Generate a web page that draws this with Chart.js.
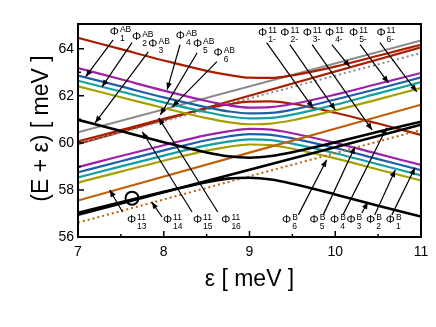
<!DOCTYPE html>
<html>
<head>
<meta charset="utf-8">
<script src="https://cdn.jsdelivr.net/npm/chart.js@4.4.0/dist/chart.umd.min.js"></script>
<style>
  html, body { margin: 0; padding: 0; background: #fff; }
</style>
</head>
<body>
<canvas id="chart" width="436" height="327"></canvas>
<script>
// epsilon grid used for the curved branches
const eps = [7, 7.5, 8, 8.5, 8.75, 9, 9.25, 9.5, 10, 10.5, 11];
const ends = [7, 11];

// curved branches (avoided crossings)
const purpleUp = [63.18, 62.70, 62.22, 61.78, 61.60, 61.50, 61.52, 61.65, 62.05, 62.51, 62.97];
const purpleLo = [58.97, 59.44, 59.90, 60.33, 60.49, 60.59, 60.56, 60.41, 60.00, 59.53, 59.06];
const blueUp = [62.86, 62.40, 61.93, 61.51, 61.34, 61.25, 61.27, 61.41, 61.84, 62.30, 62.78];
const blueLo = [58.75, 59.22, 59.68, 60.11, 60.27, 60.37, 60.34, 60.19, 59.78, 59.31, 58.84];
const tealUp = [62.64, 62.18, 61.72, 61.30, 61.13, 61.04, 61.06, 61.20, 61.62, 62.10, 62.58];
const tealLo = [58.53, 59.00, 59.46, 59.89, 60.05, 60.15, 60.12, 59.97, 59.56, 59.09, 58.62];
const oliveUp = [62.40, 61.94, 61.48, 61.05, 60.88, 60.79, 60.82, 60.96, 61.38, 61.85, 62.33];
const oliveLo = [58.31, 58.78, 59.24, 59.67, 59.83, 59.93, 59.90, 59.75, 59.34, 58.87, 58.40];
const redUp = [64.46, 63.98, 63.50, 63.06, 62.89, 62.77, 62.76, 62.87, 63.24, 63.70, 64.17];
const redLo = [60.06, 60.54, 61.02, 61.46, 61.63, 61.75, 61.76, 61.66, 61.28, 60.82, 60.34];
const blackUp = [60.98, 60.50, 60.03, 59.59, 59.43, 59.37, 59.44, 59.60, 60.02, 60.47, 60.90];
const blackLo = [57.03, 57.48, 57.92, 58.33, 58.48, 58.52, 58.44, 58.26, 57.81, 57.33, 56.87];

// straight lines, values at eps = 7 and 11
const grayLine = [60.45, 64.35];
const grayDot = [59.96, 63.82];
const redLine = [59.95, 64.06];
const blackLine = [56.95, 60.77];
const orangeLine = [57.55, 61.62];
const orangeDot = [56.61, 60.55];

const circlePt = [{ x: 7.63, y: 57.65 }];

const xTicks = [7, 8, 9, 10, 11];
const yTicks = [56, 58, 60, 62, 64];
const xMinor = [7.5, 8.5, 9.5, 10.5];
const yMinor = [57, 59, 61, 63];

// labels: [sup, sub, label x, label y, arrow from x, y, arrow to x, y] (data units)
const notes = [
  ["AB", "1", 7.37, 64.60, 7.41, 64.38, 7.09, 62.81],
  ["AB", "2", 7.63, 64.38, 7.63, 64.26, 7.28, 62.38],
  ["AB", "3", 7.82, 64.07, 7.82, 63.87, 7.20, 60.85],
  ["AB", "4", 8.14, 64.41, 8.19, 64.17, 8.04, 62.26],
  ["AB", "5", 8.34, 64.07, 8.39, 63.83, 7.96, 61.19],
  ["AB", "6", 8.58, 63.70, 8.62, 63.45, 8.10, 61.53],
  ["11", "1-", 9.10, 64.52, 9.20, 64.26, 9.74, 61.49],
  ["11", "2-", 9.36, 64.52, 9.47, 64.17, 10.00, 61.40],
  ["11", "3-", 9.62, 64.52, 9.73, 64.17, 10.43, 60.55],
  ["11", "4-", 9.88, 64.52, 9.96, 64.17, 10.17, 63.23],
  ["11", "5-", 10.16, 64.52, 10.29, 64.17, 10.62, 62.55],
  ["11", "6-", 10.48, 64.52, 10.52, 64.26, 10.95, 62.17],
  ["11", "13", 7.57, 56.58, 7.52, 57.06, 7.37, 58.00],
  ["11", "14", 7.99, 56.58, 7.98, 56.85, 7.86, 57.49],
  ["11", "15", 8.34, 56.58, 8.33, 57.06, 7.75, 60.47],
  ["11", "16", 8.67, 56.58, 8.63, 57.06, 7.94, 61.06],
  ["B", "6", 9.38, 56.58, 9.57, 56.94, 9.90, 59.28],
  ["B", "5", 9.70, 56.58, 9.86, 56.94, 10.23, 59.83],
  ["B", "4", 9.94, 56.58, 10.09, 56.94, 10.60, 60.64],
  ["B", "3", 10.13, 56.58, 10.31, 57.02, 10.38, 57.49],
  ["B", "2", 10.36, 56.58, 10.46, 56.94, 10.70, 58.85],
  ["B", "1", 10.59, 56.58, 10.66, 56.94, 10.93, 58.94],
];

const FONT = '"Liberation Sans", Arial, Helvetica, sans-serif';

const pts = (xs, ys) => xs.map((x, i) => ({ x: x, y: ys[i] }));

function line(xs, ys, color, width, dash) {
  return {
    data: pts(xs, ys),
    borderColor: color,
    borderWidth: width,
    borderDash: dash || [],
    pointRadius: 0,
    fill: false,
    cubicInterpolationMode: "monotone",
  };
}

const RED = "#a81e00", GRAY = "#8a8a8a", PURPLE = "#a020a8", BLUE = "#1f5fa8",
  TEAL = "#10a0a0", OLIVE = "#a5a000", ORANGE = "#c0600a";

function arrow(ctx, x1, y1, x2, y2) {
  ctx.beginPath();
  ctx.moveTo(x1, y1);
  ctx.lineTo(x2, y2);
  ctx.stroke();
  const a = Math.atan2(y2 - y1, x2 - x1);
  const L = 7, W = 2.8;
  ctx.beginPath();
  ctx.moveTo(x2, y2);
  ctx.lineTo(x2 - L * Math.cos(a) + W * Math.sin(a), y2 - L * Math.sin(a) - W * Math.cos(a));
  ctx.lineTo(x2 - L * Math.cos(a) - W * Math.sin(a), y2 - L * Math.sin(a) + W * Math.cos(a));
  ctx.closePath();
  ctx.fill();
}

const decor = {
  id: "decor",
  afterDatasetsDraw(chart) {
    const { ctx, chartArea: a, scales } = chart;
    const sx = scales.x, sy = scales.y;
    ctx.save();
    ctx.fillStyle = "#000";
    ctx.strokeStyle = "#000";

    // annotations
    ctx.lineWidth = 1.2;
    notes.forEach(([sup, sub, lx, ly, fx, fy, tx, ty]) => {
      arrow(ctx, sx.getPixelForValue(fx), sy.getPixelForValue(fy),
        sx.getPixelForValue(tx), sy.getPixelForValue(ty));
      const px = sx.getPixelForValue(lx), py = sy.getPixelForValue(ly);
      ctx.textAlign = "left";
      ctx.textBaseline = "alphabetic";
      ctx.font = "11.5px " + FONT;
      ctx.fillText("Φ", px, py);
      const w = ctx.measureText("Φ").width;
      ctx.font = "8.5px " + FONT;
      ctx.fillText(sup, px + w + 1, py - 3);
      ctx.fillText(sub, px + w + 1, py + 6);
    });

    // frame
    ctx.lineWidth = 2;
    ctx.strokeRect(a.left, a.top, a.right - a.left, a.bottom - a.top);

    // inward ticks
    ctx.lineWidth = 1.5;
    ctx.beginPath();
    xTicks.forEach(v => { const p = sx.getPixelForValue(v); ctx.moveTo(p, a.bottom); ctx.lineTo(p, a.bottom - 6); });
    xMinor.forEach(v => { const p = sx.getPixelForValue(v); ctx.moveTo(p, a.bottom); ctx.lineTo(p, a.bottom - 3); });
    yTicks.forEach(v => { const p = sy.getPixelForValue(v); ctx.moveTo(a.left, p); ctx.lineTo(a.left + 6, p); });
    yMinor.forEach(v => { const p = sy.getPixelForValue(v); ctx.moveTo(a.left, p); ctx.lineTo(a.left + 3, p); });
    ctx.stroke();

    // axis titles
    ctx.font = "23px " + FONT;
    ctx.textAlign = "center";
    ctx.textBaseline = "middle";
    ctx.fillText("ε [ meV ]", (a.left + a.right) / 2, 280);
    ctx.translate(42, (a.top + a.bottom) / 2 - 2);
    ctx.rotate(-Math.PI / 2);
    ctx.fillText("(E + ε) [ meV ]", 0, 0);
    ctx.restore();
  },
};

new Chart(document.getElementById("chart").getContext("2d"), {
  type: "line",
  data: {
    datasets: [
      {
        type: "scatter",
        data: circlePt,
        pointRadius: 6.5,
        pointBorderWidth: 2,
        pointBorderColor: "#000",
        pointBackgroundColor: "rgba(0,0,0,0)",
      },
      line(eps, blackUp, "#000", 2.6),
      line(eps, blackLo, "#000", 2.6),
      line(ends, blackLine, "#000", 2.6),
      line(ends, orangeDot, ORANGE, 2, [2, 3]),
      line(ends, orangeLine, ORANGE, 2.2),
      line(eps, oliveLo, OLIVE, 2.2),
      line(eps, tealLo, TEAL, 2.2),
      line(eps, blueLo, BLUE, 2.2),
      line(eps, purpleLo, PURPLE, 2.2),
      line(eps, oliveUp, OLIVE, 2.2),
      line(eps, tealUp, TEAL, 2.2),
      line(eps, blueUp, BLUE, 2.2),
      line(eps, purpleUp, PURPLE, 2.2),
      line(eps, redLo, RED, 2.2),
      line(ends, grayDot, GRAY, 2, [2, 3]),
      line(ends, redLine, RED, 2.2),
      line(eps, redUp, RED, 2.2),
      line(ends, grayLine, GRAY, 2.2),
    ],
  },
  options: {
    responsive: false,
    animation: false,
    layout: { padding: { top: 24, right: 15, left: 0, bottom: 0 } },
    plugins: { legend: { display: false }, tooltip: { enabled: false } },
    scales: {
      x: {
        type: "linear",
        min: 7,
        max: 11,
        afterFit: (s) => { s.height = 90; },
        afterBuildTicks: (s) => { s.ticks = xTicks.map(v => ({ value: v })); },
        grid: { display: false, drawTicks: false },
        border: { display: false },
        ticks: { padding: 7, color: "#000", font: { family: FONT, size: 14 } },
      },
      y: {
        type: "linear",
        min: 56,
        max: 65.05,
        afterFit: (s) => { s.width = 78; },
        afterBuildTicks: (s) => { s.ticks = yTicks.map(v => ({ value: v })); },
        grid: { display: false, drawTicks: false },
        border: { display: false },
        ticks: { padding: 4, color: "#000", font: { family: FONT, size: 14 } },
      },
    },
  },
  plugins: [decor],
});
</script>
</body>
</html>
